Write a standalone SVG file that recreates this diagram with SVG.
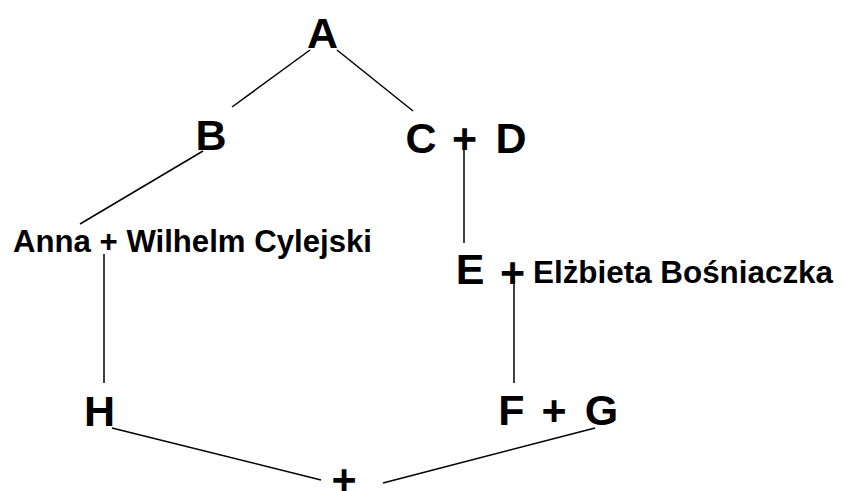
<svg xmlns="http://www.w3.org/2000/svg" width="845" height="491" viewBox="0 0 845 491">
<style>
.big{font-family:"Liberation Sans",Arial,sans-serif;font-weight:bold;font-size:43px;fill:#000;text-anchor:middle}
.small{font-family:"Liberation Sans",Arial,sans-serif;font-weight:bold;font-size:31px;fill:#000}
.ln{stroke:#000;stroke-width:1.5;fill:none}
</style>
<rect width="845" height="491" fill="#fff"/>
<g id="connectors">
<line class="ln" x1="310" y1="50" x2="232" y2="107"/>
<line class="ln" x1="337" y1="50" x2="413" y2="111"/>
<line class="ln" x1="203" y1="151" x2="80" y2="224"/>
<line class="ln" x1="104" y1="254" x2="104" y2="383"/>
<line class="ln" x1="464" y1="149" x2="464" y2="243"/>
<line class="ln" x1="514" y1="277" x2="514" y2="383"/>
<line class="ln" x1="112" y1="428" x2="321" y2="480"/>
<line class="ln" x1="595" y1="428" x2="383" y2="483"/>
</g>
<g id="node-A"><text class="big" x="322.5" y="48">A</text></g>
<g id="node-B"><text class="big" x="211" y="150">B</text></g>
<g id="node-CD"><text class="big" y="153"><tspan x="421">C</tspan><tspan x="464.5">+</tspan><tspan x="511">D</tspan></text></g>
<g id="node-Anna"><text class="small" x="13" y="252" textLength="359" lengthAdjust="spacingAndGlyphs">Anna + Wilhelm Cylejski</text></g>
<g id="node-E"><text class="big" x="470" y="284">E</text><text class="big" x="512.5" y="287">+</text><text class="small" x="533" y="283" textLength="300" lengthAdjust="spacingAndGlyphs">Elżbieta Bośniaczka</text></g>
<g id="node-H"><text class="big" x="99.5" y="426">H</text></g>
<g id="node-FG"><text class="big" y="425"><tspan x="511.5">F</tspan><tspan x="554">+</tspan><tspan x="601.5">G</tspan></text></g>
<g id="node-bottom"><text class="big" x="344" y="494">+</text></g>
</svg>
